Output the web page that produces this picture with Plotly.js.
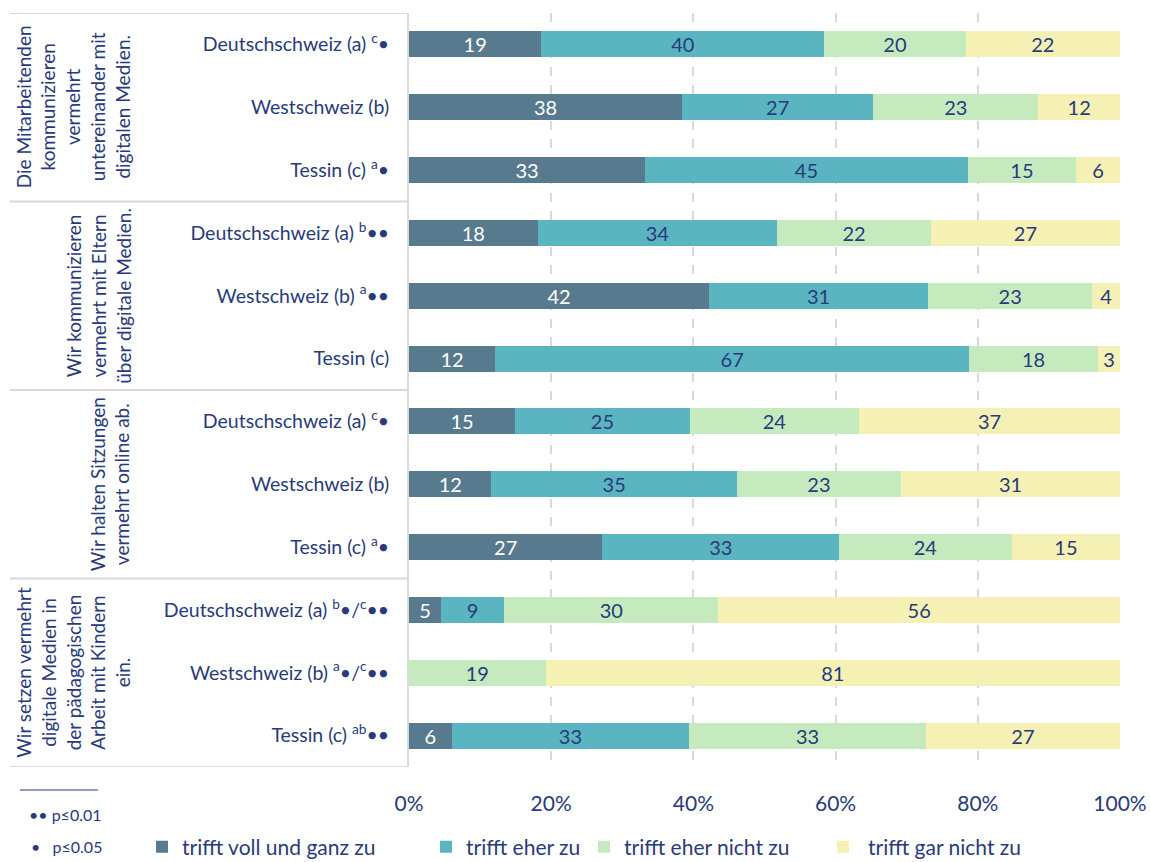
<!DOCTYPE html>
<html>
<head>
<meta charset="utf-8">
<script src="https://cdn.plot.ly/plotly-3.0.1.min.js"></script>
<style>html,body{margin:0;padding:0;background:#fff;}#chart{width:1150px;height:862px;}</style>
</head>
<body>
<div id="chart"></div>
<script>
// Row labels (top to bottom)
const rowLabels = [
  "Deutschschweiz (a) <sup>c</sup>•",
  "Westschweiz (b)",
  "Tessin (c) <sup>a</sup>•",
  "Deutschschweiz (a) <sup>b</sup>••",
  "Westschweiz (b) <sup>a</sup>••",
  "Tessin (c)",
  "Deutschschweiz (a) <sup>c</sup>•",
  "Westschweiz (b)",
  "Tessin (c) <sup>a</sup>•",
  "Deutschschweiz (a) <sup>b</sup>•/<sup>c</sup>••",
  "Westschweiz (b) <sup>a</sup>•/<sup>c</sup>••",
  "Tessin (c) <sup>ab</sup>••"
];
const groupLabels = [
  "Die Mitarbeitenden<br>kommunizieren<br>vermehrt<br>untereinander mit<br>digitalen Medien.",
  "Wir kommunizieren<br>vermehrt mit Eltern<br>über digitale Medien.",
  "Wir halten Sitzungen<br>vermehrt online ab.",
  "Wir setzen vermehrt<br>digitale Medien in<br>der pädagogischen<br>Arbeit mit Kindern<br>ein."
];
const seriesNames = ["trifft voll und ganz zu", "trifft eher zu", "trifft eher nicht zu", "trifft gar nicht zu"];
// values (percent)
const vollUndGanz = [18.6, 38.4, 33.2, 18.1, 42.2, 12.1, 14.9, 11.6, 27.2, 4.5, 0, 6.0];
const eher        = [39.8, 26.9, 45.4, 33.7, 30.8, 66.7, 24.6, 34.5, 33.3, 8.9, 0, 33.4];
const eherNicht   = [19.9, 23.2, 15.2, 21.6, 23.1, 18.1, 23.8, 23.1, 24.3, 30.1, 19.2, 33.3];
const garNicht    = [21.7, 11.5, 6.2, 26.6, 3.9, 3.1, 36.7, 30.8, 15.2, 56.5, 80.8, 27.3];
// printed labels
const vollUndGanzTxt = ["19","38","33","18","42","12","15","12","27","5","","6"];
const eherTxt        = ["40","27","45","34","31","67","25","35","33","9","","33"];
const eherNichtTxt   = ["20","23","15","22","23","18","24","23","24","30","19","33"];
const garNichtTxt    = ["22","12","6","27","4","3","37","31","15","56","81","27"];
const xTickVals = [0, 20, 40, 60, 80, 100];
const xTickText = ["0%", "20%", "40%", "60%", "80%", "100%"];
const footnotes = ["•• p≤0.01", "•   p≤0.05"];

const colors = ["#587a8e", "#5ab5c0", "#c5eabd", "#f5f1b5"];
const navy = "#283a7c";
const FONT = "Lato, 'Open Sans', sans-serif";
const rows = rowLabels.map((_, i) => i);

const vals = [vollUndGanz, eher, eherNicht, garNicht];
const txts = [vollUndGanzTxt, eherTxt, eherNichtTxt, garNichtTxt];
const legendIds = ["legend", "legend2", "legend3", "legend4"];

const traces = vals.map((v, k) => ({
  type: "bar",
  orientation: "h",
  name: seriesNames[k],
  legend: legendIds[k],
  x: v,
  y: rows,
  text: txts[k],
  textposition: "inside",
  insidetextanchor: "middle",
  textangle: 0,
  constraintext: "none",
  textfont: {family: FONT, size: 20, color: k === 0 ? "#ffffff" : navy},
  marker: {color: colors[k], line: {width: 0}},
  hoverinfo: "skip"
}));

const L = 409, R = 30, T = 13, B = 95;
const W = 1150, H = 862;
const pw = W - L - R, ph = H - T - B;
const px = x => (x - L) / pw;          // pixel -> paper x
const py = y => (H - B - y) / ph;      // pixel -> paper y

const shapes = [-0.5, 2.5, 5.5, 8.5, 11.5].map(b => ({
  type: "line", xref: "paper", yref: "y",
  x0: px(10), x1: 0, y0: b, y1: b,
  line: {color: "#d9d9d9", width: 2}
}));
shapes.push({type: "line", xref: "paper", yref: "paper", x0: px(20), x1: px(98), y0: py(790), y1: py(790), line: {color: navy, width: 1}});

const groupCenters = [1, 4, 7, 10];
const annotations = groupLabels.map((g, i) => ({
  text: g, xref: "paper", yref: "y",
  x: px(136), y: groupCenters[i],
  xanchor: "right", yanchor: "middle",
  textangle: -90, showarrow: false, align: "center",
  font: {family: FONT, size: 19, color: navy}
}));
annotations.push(
  {text: footnotes[0], xref: "paper", yref: "paper", x: px(27), y: py(814), xanchor: "left", yanchor: "middle", showarrow: false, font: {family: FONT, size: 16, color: navy}},
  {text: footnotes[1], xref: "paper", yref: "paper", x: px(29), y: py(847), xanchor: "left", yanchor: "middle", showarrow: false, font: {family: FONT, size: 16, color: navy}}
);

// legend left positions (px) and symbol widths
const legendX = [142, 426, 584, 818];
const legendItemW = [30, 30, 30, 40];
const legendBase = {
  orientation: "h", yanchor: "middle", xanchor: "left",
  font: {family: FONT, size: 21, color: navy},
  bgcolor: "rgba(0,0,0,0)"
};
const layout = {
  width: W, height: H,
  margin: {l: L, r: R, t: T, b: B, pad: 0, autoexpand: false},
  paper_bgcolor: "#ffffff", plot_bgcolor: "#ffffff",
  barmode: "stack",
  bargap: 0.585,
  showlegend: true,
  xaxis: {
    range: [0, 100], tickvals: xTickVals, ticktext: xTickText,
    showgrid: true, gridcolor: "#d9d9d9", griddash: "dash", gridwidth: 2,
    zeroline: false, showline: false,
    ticks: "", ticklabelstandoff: 22,
    tickfont: {family: FONT, size: 21, color: navy}, fixedrange: true
  },
  yaxis: {
    range: [11.5, -0.5], tickvals: rows, ticktext: rowLabels,
    showgrid: false, zeroline: false,
    showline: true, linecolor: "#d9d9d9", linewidth: 2,
    ticks: "", ticklabelstandoff: 14,
    tickfont: {family: FONT, size: 19.5, color: navy}, fixedrange: true
  },
  shapes: shapes,
  annotations: annotations
};
legendIds.forEach((id, k) => {
  layout[id] = Object.assign({}, legendBase, {x: px(legendX[k]), y: py(847), itemwidth: legendItemW[k]});
});

Plotly.newPlot("chart", traces, layout, {displayModeBar: false, staticPlot: true});
</script>
</body>
</html>
